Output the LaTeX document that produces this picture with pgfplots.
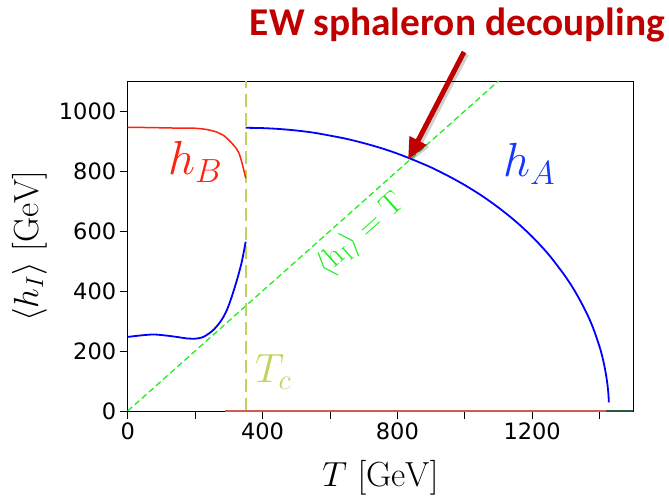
\RequirePackage{fix-cm}
\documentclass[border=0pt]{standalone}
\usepackage{fontspec}
\usepackage{pgfplots}
\pgfplotsset{compat=1.18}
\usetikzlibrary{arrows.meta}
\newfontfamily\dejavu{DejaVu Sans}
\newfontfamily\carlito{Carlito}
\definecolor{hBred}{RGB}{255,35,15}
\definecolor{hAblue}{RGB}{20,55,255}
\definecolor{tcol}{RGB}{190,212,90}
\definecolor{lgreen}{RGB}{30,240,30}
\definecolor{dred}{RGB}{192,0,0}
\definecolor{zred}{RGB}{205,95,85}
\definecolor{zteal}{RGB}{40,90,70}
\begin{document}
\begin{tikzpicture}
\path[use as bounding box] (0bp,0bp) rectangle (669bp,497bp);
\begin{axis}[
  at={(127.7bp,86bp)}, anchor=south west,
  scale only axis, width=505.6bp, height=330bp,
  xmin=0, xmax=1500, ymin=0, ymax=1100,
  clip=false,
  tick align=outside, xtick pos=bottom, ytick pos=left,
  major tick length=8bp,
  tick style={black, line width=0.8bp},
  axis line style={black, line width=0.8bp},
  xtick={0,200,...,1400}, xticklabels={0,,400,,800,,1200,},
  ytick={0,200,...,1000},
  ticklabel style={font=\dejavu\fontsize{22.6}{26}\selectfont},
  /pgf/number format/assume math mode=true,
  /pgf/number format/1000 sep={},
  xlabel={$T\ [\mathrm{GeV}]$},
  ylabel={$\langle h_I\rangle\ [\mathrm{GeV}]$},
  label style={font=\fontsize{35}{40}\selectfont},
  xlabel style={at={(axis description cs:0.5,-0.2273)}, anchor=base},
  ylabel style={at={(axis description cs:-0.1774,0.5)}, anchor=base},
]
% h=T line
\addplot[lgreen, line width=1.3bp, dash pattern=on 6bp off 3.5bp] coordinates {(0,0) (1100,1100)};
% T_c line
\addplot[tcol, line width=2bp, dash pattern=on 13bp off 6bp] coordinates {(350,0) (350,1100)};
% zero lines
\addplot[zred, line width=1.5bp] coordinates {(290,0) (1418,0)};
\addplot[zteal, line width=1.5bp] coordinates {(1418,0) (1500,0)};
% h_B
\addplot[hBred, line width=1.5bp, smooth] coordinates {
(0,945) (50,945) (100,944) (150,943) (193,943) (230,939) (261,931) (285,918)
(300,903) (315,885) (330,860) (343,810) (350,776)};
% lower blue branch
\addplot[blue, line width=1.8bp, smooth] coordinates {
(0,247) (40,252) (76,255) (110,252) (145,247) (175,242) (200,241) (220,245)
(234,253) (250,266) (264,282) (280,306) (294,336) (306,372) (318,414)
(328,452) (338,495) (344,528) (350,564)};
% h_A
\addplot[blue, line width=1.8bp, smooth] coordinates {
(350,944) (400,943) (450,940) (500,935) (550,928) (600,918) (650,907) (700,893)
(750,877) (800,858) (850,836) (900,812) (950,784) (1000,753) (1050,718)
(1100,678) (1150,633) (1200,581) (1250,520) (1300,446) (1330,393) (1360,330)
(1380,279) (1400,214) (1410,172) (1418,128) (1423,91) (1426,58) (1427.5,29)};
\end{axis}
% annotations
\node[anchor=base west, inner sep=0, text=hBred, font=\fontsize{48}{50}\selectfont] at (168bp,322bp) {$h_B$};
\node[anchor=base west, inner sep=0, text=hAblue, font=\fontsize{48}{50}\selectfont] at (503bp,320bp) {$h_A$};
\node[anchor=base west, inner sep=0, text=tcol, font=\fontsize{41}{44}\selectfont] at (255bp,114bp) {$T_c$};
\node[rotate=41.65, inner sep=0, text=lgreen, font=\fontsize{31}{33}\selectfont] at (361bp,262bp) {$\langle\mathrm{h_I}\rangle=\mathrm{T}$};
\node[anchor=base east, inner sep=0, text=dred, font=\carlito\bfseries\fontsize{39.5}{42}\selectfont] at (665bp,461bp) {EW sphaleron decoupling};
\draw[black, opacity=0.18, line width=5bp, -{Triangle[length=22bp,width=18bp]}] (466.5bp,443bp) -- (410.5bp,335bp);
\draw[dred, line width=5bp, -{Triangle[length=22bp,width=18bp]}] (464bp,445bp) -- (408bp,337bp);
\end{tikzpicture}
\end{document}
